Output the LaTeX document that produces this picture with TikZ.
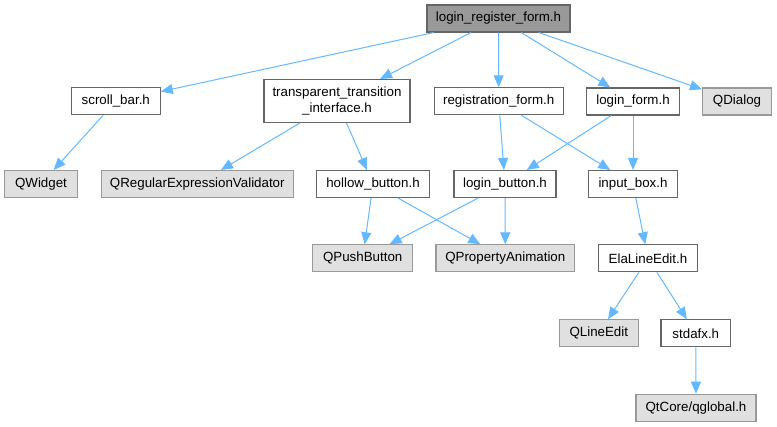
\documentclass[tikz,border=0pt]{standalone}
\usepackage{xcolor}
\usepackage{fontspec}
\setmainfont{Liberation Sans}
\usepackage{tikz}
\usetikzlibrary{arrows.meta,positioning}
\definecolor{DoxEdge}{RGB}{99,184,255}
\definecolor{DoxBorder}{RGB}{102,102,102}
\definecolor{DoxExtBorder}{RGB}{153,153,153}
\definecolor{DoxExtFill}{RGB}{224,224,224}
\definecolor{DoxRootFill}{RGB}{153,153,153}

\begin{document}
\begin{tikzpicture}[x=0.75pt, y=-0.75pt, font=\fontsize{10}{11.5}\selectfont]
  \tikzstyle{hfile} = [rectangle, draw=DoxBorder, fill=white, line width=0.8pt, minimum height=20.25pt, inner sep=2pt, align=center]
  \tikzstyle{extfile} = [hfile, draw=DoxExtBorder, fill=DoxExtFill]
  \tikzstyle{rootfile} = [hfile, fill=DoxRootFill]
  \tikzstyle{dep} = [draw=DoxEdge, line width=0.75pt, -{Triangle[length=9pt,width=7.5pt]}]

  \useasboundingbox (0,0) rectangle (777,427);

  % row 0
  \node [rootfile, minimum width=107.25pt] (root) at (498.5,18.5) {login\_register\_form.h};
  % row 1
  \node [hfile, minimum width=66.75pt] (scroll) at (115.8,101.3) {scroll\_bar.h};
  \node [hfile, minimum width=109.5pt, minimum height=32.25pt] (trans) at (337,101) {transparent\_transition\\\_interface.h};
  \node [hfile, minimum width=96.75pt] (regform) at (498.7,101.3) {registration\_form.h};
  \node [hfile, minimum width=69.5pt] (loginform) at (633,101.5) {login\_form.h};
  \node [extfile, minimum width=51.75pt] (qdialog) at (737,101.5) {QDialog};
  % row 2
  \node [extfile, minimum width=54.75pt] (qwidget) at (41,184) {QWidget};
  \node [extfile, minimum width=144pt] (qregexp) at (197.3,184) {QRegularExpressionValidator};
  \node [hfile, minimum width=84.5pt] (hollow) at (373,184) {hollow\_button.h};
  \node [hfile, minimum width=76.5pt] (loginbtn) at (505,184) {login\_button.h};
  \node [hfile, minimum width=66.25pt] (inputbox) at (633,184) {input\_box.h};
  % row 3
  \node [extfile, minimum width=75pt] (qpush) at (362.7,258.3) {QPushButton};
  \node [extfile, minimum width=104pt] (qanim) at (505.3,258.3) {QPropertyAnimation};
  \node [hfile, minimum width=74.25pt] (elaedit) at (648,258.3) {ElaLineEdit.h};
  % row 4
  \node [extfile, minimum width=59.25pt] (qlineedit) at (598.8,333.3) {QLineEdit};
  \node [hfile, minimum width=52.25pt] (stdafx) at (695.8,333.3) {stdafx.h};
  % row 5
  \node [extfile, minimum width=90pt] (qglobal) at (696,407.7) {QtCore/qglobal.h};

  \draw [dep] (root) -- (scroll);
  \draw [dep] (root) -- (trans);
  \draw [dep] (root) -- (regform);
  \draw [dep] (root) -- (loginform);
  \draw [dep] (root) -- (qdialog);
  \draw [dep] (scroll) -- (qwidget);
  \draw [dep] (trans) -- (qregexp);
  \draw [dep] (trans) -- (hollow);
  \draw [dep] (regform) -- (loginbtn);
  \draw [dep] (regform) -- (inputbox);
  \draw [dep] (loginform) -- (loginbtn);
  \draw [dep] (loginform) -- (inputbox);
  \draw [dep] (hollow) -- (qpush);
  \draw [dep] (hollow) -- (qanim);
  \draw [dep] (loginbtn) -- (qpush);
  \draw [dep] (loginbtn) -- (qanim);
  \draw [dep] (inputbox) -- (elaedit);
  \draw [dep] (elaedit) -- (qlineedit);
  \draw [dep] (elaedit) -- (stdafx);
  \draw [dep] (stdafx) -- (qglobal);
\end{tikzpicture}
\end{document}
